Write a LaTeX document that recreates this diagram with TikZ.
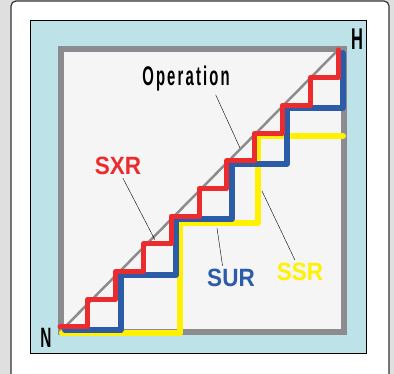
\documentclass[tikz,border=0pt]{standalone}
\usepackage{fontspec}
\setmainfont{Liberation Sans}
\newfontfamily\condfont[FakeStretch=0.55]{Liberation Sans}
\newfontfamily\labfont[FakeStretch=0.9]{Liberation Sans}
\definecolor{panelblue}{HTML}{BDE3E9}
\definecolor{framegray}{HTML}{8C8C90}
\definecolor{innergray}{HTML}{F5F5F5}
\definecolor{sxrred}{HTML}{EC2B2E}
\definecolor{surblue}{HTML}{2C5CA8}
\definecolor{ssryellow}{HTML}{FFF100}

\begin{document}
\begin{tikzpicture}[x=1pt,y=-1pt,
        stair/.style={line cap=round,line join=round},
        tag/.style={font=\labfont\bfseries\fontsize{25}{25}\selectfont,inner sep=3pt},
        lead/.style={thin,black}]
        \useasboundingbox (0,0) rectangle (394,374);
        \clip (0,0) rectangle (394,374);
        \fill[gray!25] (0,0) rectangle (394,374);
        \draw[fill=white,draw=black!80,line width=1.2pt,rounded corners=5pt](11,1) rectangle (389,390);
        \draw[fill=panelblue,draw=black,line width=1pt](30,21) rectangle (366,354);
        \draw[fill=innergray,draw=framegray,line width=6pt](60.5,49.5) rectangle (344,332);
        \draw[framegray,line width=2.5pt](62,330)--(336,52);

        % staircases
        \draw[stair,ssryellow,line width=6pt](62,333)--(180,333)--(180,223)--(258,223)--(258,136)--(343,136);
        \draw[stair,surblue,line width=6pt](65,330) \foreach \k in {1,...,5}{ -- ++(55.5,0) -- ++(0,-55.4)};
        \draw[stair,sxrred,line width=5pt](60,327) \foreach \k in {1,...,10}{ -- ++(27.8,0) -- ++(0,-27.7)};

        % labels
        \node[font=\condfont\bfseries\fontsize{30}{30}\selectfont,inner sep=0pt](hi) at (357,39){H};
        \node[font=\condfont\bfseries\fontsize{28}{28}\selectfont,inner sep=0pt](lo) at (46,338){N};
        \node[font=\condfont\bfseries\addfontfeature{LetterSpace=8}\fontsize{27}{27}\selectfont,inner sep=3pt](op) at (186,79){Operation};
        \node[tag,sxrred](sxr) at (118,166){SXR};
        \node[tag,surblue](sur) at (231,278){SUR};
        \node[tag,ssryellow](ssr) at (300,272){SSR};

        \coordinate (opend) at (240,148);
        \coordinate (sxrend) at (155,240);
        \coordinate (surend) at (217,228);
        \coordinate (ssrend) at (262,191);
        \draw[lead](op.-28)--(opend);
        \draw[lead](sxr.-68)--(sxrend);
        \draw[lead](sur.125)--(surend);
        \draw[lead](ssr.113)--(ssrend);
    \end{tikzpicture}
\end{document}
